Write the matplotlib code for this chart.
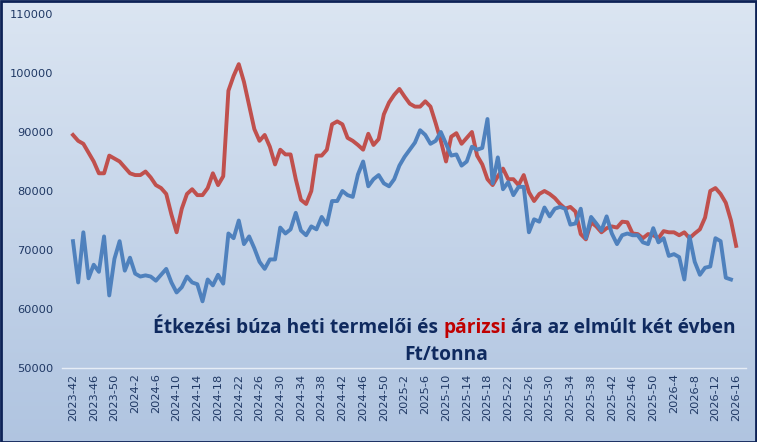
import numpy as np
import matplotlib
matplotlib.use("Agg")
import matplotlib.pyplot as plt
from matplotlib.patches import Rectangle

weeks = ([f"2023-{w}" for w in range(42, 53)] + [f"2024-{w}" for w in range(1, 53)]
         + [f"2025-{w}" for w in range(1, 51)] + [f"2026-{w}" for w in range(1, 17)])

parizsi = [89500, 88500, 88000, 86500, 85000, 83000, 83000, 86000, 85500, 85000, 84000, 83000, 82700, 82700, 83300, 82300,
           81000, 80500, 79500, 76000, 73000, 77000, 79500, 80300, 79300, 79300, 80500, 83000, 81000, 82500, 97000, 99500,
           101500, 98500, 94500, 90500, 88500, 89500, 87500, 84500, 87000, 86200, 86200, 82000, 78500, 77800, 80000, 86000,
           86000, 87000, 91300, 91800, 91300, 89000, 88500, 87800, 87000, 89700, 87800, 88800, 93000, 95000, 96300, 97300,
           96000, 94800, 94300, 94300, 95200, 94300, 91500, 88500, 85000, 89200, 89800, 88000, 89000, 90000, 86000, 84500,
           82000, 81000, 82500, 83800, 82000, 82000, 81000, 82700, 79800, 78300, 79500, 80000, 79500, 78800, 77800, 77000,
           77300, 76500, 72700, 71800, 74700, 74000, 73000, 73700, 74000, 73800, 74800, 74700, 72800, 72700, 72000, 72700,
           72500, 72000, 73200, 73000, 73000, 72500, 73000, 72000, 72800, 73500, 75500, 80000, 80500, 79500, 78000, 75000,
           70700]

buza = [71500, 64500, 73000, 65200, 67500, 66300, 72300, 62300, 68500, 71500, 66500, 68700, 66000, 65500, 65700, 65500,
        64800, 65800, 66800, 64500, 62800, 63700, 65500, 64500, 64200, 61300, 65000, 64000, 65800, 64300, 72800, 72000,
        75000, 71000, 72300, 70300, 68000, 66800, 68400, 68400, 73800, 72800, 73500, 76300, 73300, 72500, 74000, 73500,
        75600, 74300, 78300, 78300, 80000, 79300, 79000, 82800, 85000, 80800, 82000, 82700, 81300, 80800, 82000, 84300,
        85800, 87000, 88200, 90300, 89500, 88000, 88500, 90000, 88000, 86000, 86200, 84300, 85000, 87500, 87000, 87300,
        92200, 81300, 85700, 80300, 81500, 79300, 80700, 80700, 73000, 75200, 74800, 77200, 75700, 77000, 77300, 77000,
        74300, 74500, 77000, 72000, 75600, 74500, 73300, 75700, 72800, 71000, 72500, 72800, 72500, 72500, 71300, 71000,
        73700, 71300, 72000, 69000, 69300, 68800, 65000, 72300, 68000, 65800, 67000, 67200, 72000, 71500, 65300, 65000]

W, H = 757, 442
fig = plt.figure(figsize=(W / 100, H / 100), dpi=100)

# gradient background
bg = fig.add_axes([0, 0, 1, 1], zorder=-10)
grad = np.linspace(0, 1, 256).reshape(-1, 1)
top = np.array([0.86, 0.90, 0.95]); bot = np.array([0.69, 0.77, 0.88])
img = top + (bot - top) * grad[..., None]
bg.imshow(img, aspect="auto", extent=[0, 1, 0, 1], origin="upper")
bg.axis("off")
fig.patches.append(Rectangle((0.5 / W, 0.5 / H), 1 - 1.5 / W, 1 - 1.5 / H, transform=fig.transFigure,
                             fill=False, edgecolor="#0d2256", linewidth=2))

ax = fig.add_axes([62 / W, (H - 368) / H, 684 / W, 354 / H])
ax.patch.set_alpha(0)
x = np.arange(len(weeks))
navy = "#1f3864"
ax.plot(x, parizsi, color="#c0504d", lw=2.8, solid_joinstyle="round")
ax.plot(np.arange(len(buza)), buza, color="#4f81bd", lw=2.8, solid_joinstyle="round")
ax.set_xlim(-2.12, 129.9)
ax.set_ylim(50000, 110000)
ax.set_yticks(range(50000, 110001, 10000))
ax.set_xticks(x[::4])
ax.set_xticklabels(weeks[::4], rotation=90, fontsize=8.2, color=navy)
ax.tick_params(axis="y", labelsize=8.2, labelcolor=navy, length=0, pad=6)
ax.tick_params(axis="x", length=0, pad=4)
for s in ["top", "right", "left"]:
    ax.spines[s].set_visible(False)
ax.spines["bottom"].set_color("#e6edf6")
ax.spines["bottom"].set_linewidth(1)

fs = 13.8
fam = "Open Sans"
ty = (H - 333) / H
t1 = fig.text(153 / W, ty, "Étkezési búza heti termelői és ", fontsize=fs, fontweight="bold",
              color="#0f2a5f", family=fam, va="baseline")
t2 = fig.text(0, 0, "párizsi", fontsize=fs, fontweight="bold", color="#c00000", family=fam, va="baseline")
t3 = fig.text(0, 0, " ára az elmúlt két évben", fontsize=fs, fontweight="bold", color="#0f2a5f", family=fam,
              va="baseline")
fig.canvas.draw()
r = fig.canvas.get_renderer()
b1 = t1.get_window_extent(r)
t2.set_position((b1.x1 / W, ty))
fig.canvas.draw()
b2 = t2.get_window_extent(r)
t3.set_position((b2.x1 / W, ty))
fig.text(446 / W, (H - 360) / H, "Ft/tonna", fontsize=fs, fontweight="bold", color="#0f2a5f", family=fam,
         ha="center", va="baseline")

fig.savefig("out.png", dpi=100)
